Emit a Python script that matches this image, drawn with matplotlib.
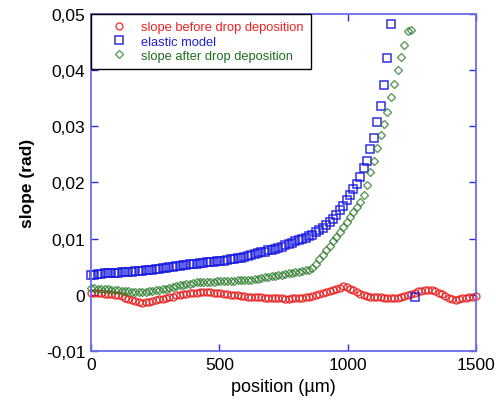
import numpy as np
import matplotlib
matplotlib.use("Agg")
import matplotlib.pyplot as plt
from matplotlib.ticker import FuncFormatter

plt.rcParams['font.family'] = ['Liberation Sans', 'DejaVu Sans']

# sampling grid of the profile (µm), one point every ~13.3 µm
positions = np.linspace(0, 1500, 114)

slope_before = [
    0.0004, 0.0004, 0.0003, 0.0003, 0.0002, 0.0002, 0.0001, 0.0000, 0.0000, -0.0002,
    -0.0005, -0.0007, -0.0009, -0.0011, -0.0013, -0.0014, -0.0013, -0.0012, -0.0011, -0.0010,
    -0.0008, -0.0007, -0.0005, -0.0004, -0.0003, -0.0001, 0.0000, 0.0001, 0.0002, 0.0003,
    0.0004, 0.0004, 0.0005, 0.0005, 0.0005, 0.0005, 0.0004, 0.0004, 0.0003, 0.0002,
    0.0001, 0.0000, -0.0001, -0.0001, -0.0002, -0.0002, -0.0003, -0.0003, -0.0004, -0.0004,
    -0.0004, -0.0005, -0.0005, -0.0005, -0.0006, -0.0006, -0.0006, -0.0007, -0.0007, -0.0006,
    -0.0006, -0.0005, -0.0005, -0.0004, -0.0003, -0.0002, 0.0000, 0.0002, 0.0003, 0.0005,
    0.0007, 0.0009, 0.0011, 0.0013, 0.0015, 0.0014, 0.0011, 0.0008, 0.0005, 0.0002,
    0.0000, -0.0002, -0.0003, -0.0003, -0.0004, -0.0004, -0.0005, -0.0005, -0.0005, -0.0005,
    -0.0005, -0.0004, -0.0002, 0.0000, 0.0002, 0.0004, 0.0006, 0.0007, 0.0008, 0.0009,
    0.0008, 0.0006, 0.0004, 0.0001, -0.0002, -0.0005, -0.0008, -0.0009, -0.0008, -0.0006,
    -0.0005, -0.0004, -0.0003, -0.0002,
]

nan = np.nan
elastic_model = [
    0.0036, 0.0036, 0.0037, 0.0037, 0.0038, 0.0038, 0.0038, 0.0039, 0.0039, 0.0040,
    0.0040, 0.0041, 0.0041, 0.0042, 0.0042, 0.0043, 0.0044, 0.0044, 0.0045, 0.0046,
    0.0046, 0.0047, 0.0048, 0.0049, 0.0050, 0.0051, 0.0052, 0.0053, 0.0053, 0.0054,
    0.0055, 0.0055, 0.0056, 0.0057, 0.0058, 0.0058, 0.0059, 0.0060, 0.0061, 0.0061,
    0.0062, 0.0063, 0.0064, 0.0065, 0.0066, 0.0068, 0.0069, 0.0071, 0.0072, 0.0074,
    0.0076, 0.0077, 0.0079, 0.0080, 0.0082, 0.0084, 0.0086, 0.0088, 0.0090, 0.0092,
    0.0095, 0.0097, 0.0099, 0.0102, 0.0105, 0.0107, 0.0111, 0.0115, 0.0119, 0.0124,
    0.0129, 0.0135, 0.0143, 0.0151, 0.0159, 0.0168, 0.0177, 0.0188, 0.0198, 0.0209,
    0.0225, 0.0239, 0.0259, 0.0280, 0.0307, 0.0337, 0.0373, 0.0421, 0.0482,
    nan, nan, nan, nan, nan, nan, -0.0003,
]

slope_after = [
    0.0012, 0.0012, 0.0011, 0.0011, 0.0010, 0.0010, 0.0009, 0.0008, 0.0008, 0.0007,
    0.0006, 0.0006, 0.0005, 0.0005, 0.0005, 0.0005, 0.0005, 0.0006, 0.0007, 0.0008,
    0.0009, 0.0010, 0.0011, 0.0013, 0.0014, 0.0015, 0.0017, 0.0018, 0.0019, 0.0020,
    0.0021, 0.0022, 0.0022, 0.0023, 0.0023, 0.0023, 0.0023, 0.0024, 0.0024, 0.0024,
    0.0025, 0.0025, 0.0025, 0.0026, 0.0026, 0.0026, 0.0027, 0.0027, 0.0028, 0.0029,
    0.0030, 0.0031, 0.0032, 0.0033, 0.0034, 0.0035, 0.0036, 0.0037, 0.0038, 0.0039,
    0.0040, 0.0041, 0.0043, 0.0044, 0.0045, 0.0047, 0.0055, 0.0063, 0.0071, 0.0079,
    0.0087, 0.0095, 0.0103, 0.0112, 0.0121, 0.0130, 0.0139, 0.0148, 0.0157, 0.0166,
    0.0177, 0.0196, 0.0219, 0.0238, 0.0261, 0.0284, 0.0304, 0.0326, 0.0353, 0.0375,
    0.0400, 0.0423, 0.0445, 0.0469, 0.0471,
]

labels = ['slope before drop deposition', 'elastic model', 'slope after drop deposition']
colors = ['#e81c1c', '#1a1ae0', '#2a7a2a']
text_colors = ['#f02020', '#2020d8', '#1f6f1f']
spine_color = '#6a6aee'

fig = plt.figure(figsize=(4.96, 4.02), dpi=100)
ax = fig.add_axes([0.1835, 0.1244, 0.7762, 0.8383])

ax.plot(positions[:len(slope_before)], slope_before, 'o', ms=5, mfc='none',
        mec=colors[0], mew=1.0, alpha=0.85, clip_on=False, label=labels[0])
ax.plot(positions[:len(elastic_model)], elastic_model, 's', ms=5.5, mfc='none',
        mec=colors[1], mew=1.1, alpha=0.9, clip_on=False, label=labels[1])
ax.plot(positions[:len(slope_after)], slope_after, 'D', ms=4.2, mfc='none',
        mec=colors[2], mew=1.0, alpha=0.75, clip_on=False, label=labels[2])

ax.set_xlim(0, 1500)
ax.set_ylim(-0.01, 0.05)
ax.set_xticks([0, 500, 1000, 1500])
ax.set_yticks([-0.01, 0, 0.01, 0.02, 0.03, 0.04, 0.05])


def comma_fmt(v, pos):
    if abs(v) < 1e-12:
        return '0'
    return ('%.2f' % v).replace('.', ',')


ax.yaxis.set_major_formatter(FuncFormatter(comma_fmt))
ax.tick_params(direction='in', length=5, width=1, color='#2a2ae0',
               top=True, right=True, labelsize=12.5, pad=4)
for s in ax.spines.values():
    s.set_color(spine_color)
    s.set_linewidth(1.3)

ax.set_xlabel('position (µm)', fontsize=13, labelpad=5)
ax.set_ylabel('slope (rad)', fontsize=12.5, fontweight='bold', labelpad=8)

leg = ax.legend(loc='upper left', bbox_to_anchor=(0, 1), borderaxespad=0,
                fontsize=9.3, frameon=True, fancybox=False, handlelength=3.2,
                handletextpad=0.15, borderpad=0.55, labelspacing=0.18,
                edgecolor='black', framealpha=1)
leg.get_frame().set_linewidth(1.0)
leg.set_zorder(5)
for t, c in zip(leg.get_texts(), text_colors):
    t.set_color(c)

fig.savefig('out.png', dpi=100, facecolor='white')
